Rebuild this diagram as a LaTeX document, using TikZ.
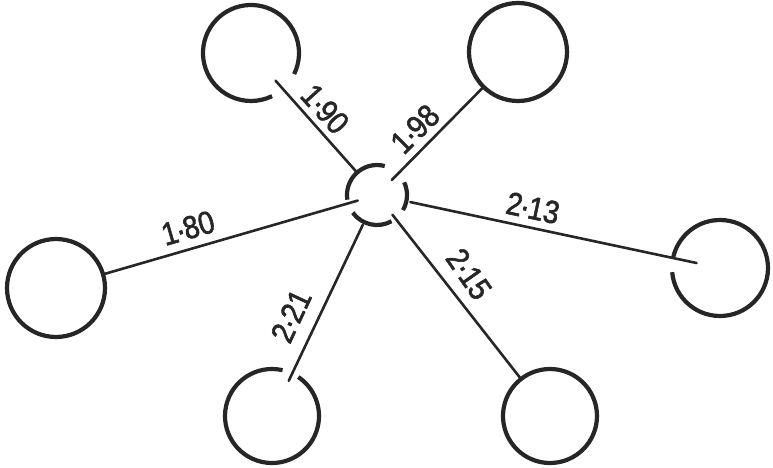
\documentclass[tikz,border=0pt]{standalone}
\usepackage{fontspec}
\setmainfont{Liberation Sans}[FakeStretch=0.88,FakeBold=1.8]
\usetikzlibrary{calc}
\definecolor{ink}{RGB}{38,38,38}
\newcommand{\dt}{\kern-1.5pt·\kern-1.5pt}
\begin{document}
\begin{tikzpicture}[x=1pt,y=1pt,
  ring/.style={draw=ink,line width=4.2pt},
  bond/.style={draw=ink,line width=2.6pt,line cap=round},
  lab/.style={text=ink,inner sep=0pt,font=\fontsize{32}{32}\selectfont}]
\useasboundingbox (0,0) rectangle (773,467);
% centres
\coordinate (C) at (377,272);
\coordinate (TL) at (251,414);
\coordinate (TR) at (518,415);
\coordinate (L) at (56,179);
\coordinate (R) at (720,199);
\coordinate (BL) at (272,51);
\coordinate (BR) at (550,51);
% central broken ring
\draw[ring] ([shift={(75:30)}]C) arc[start angle=75,end angle=189,radius=30];
\draw[ring] ([shift={(216:30)}]C) arc[start angle=216,end angle=299,radius=30];
\draw[ring] ([shift={(-30:30)}]C) arc[start angle=-30,end angle=25,radius=30];
% outer rings
\draw[ring] ([shift={(-26:48)}]TL) arc[start angle=-26,end angle=296,radius=48];
\draw[ring] (TR) circle[radius=49];
\draw[ring] (L) circle[radius=49];
\draw[ring] ([shift={(185:48)}]R) arc[start angle=185,end angle=527,radius=48];
\draw[ring] ([shift={(77:47)}]BL) arc[start angle=77,end angle=416,radius=47];
\draw[ring] (BR) circle[radius=47];
% bonds
\draw[bond] ($(TL)!37pt!(C)$) -- ($(C)!30pt!(TL)$);
\draw[bond] ($(TR)!49pt!(C)$) -- ($(C)!21pt!(TR)$);
\draw[bond] ($(L)!49pt!(C)$) -- ($(C)!20pt!(L)$);
\draw[bond] ($(R)!24pt!(C)$) -- ($(C)!34pt!(R)$);
\draw[bond] ($(BL)!39pt!(C)$) -- ($(C)!33pt!(BL)$);
\draw[bond] ($(BR)!47pt!(C)$) -- ($(C)!25pt!(BR)$);
% labels
\node[lab,rotate=-48] (l190) at (325,358) {1\dt 90};
\node[lab,rotate=45] (l198) at (415,338) {1\dt 98};
\node[lab,rotate=16] (l180) at (188,239) {1\dt 80};
\node[lab,rotate=-12] (l213) at (533,259) {2\dt 13};
\node[lab,rotate=-55] (l215) at (469,193) {2\dt 15};
\node[lab,rotate=65] (l221) at (291,151) {2\dt 21};
\end{tikzpicture}
\end{document}
